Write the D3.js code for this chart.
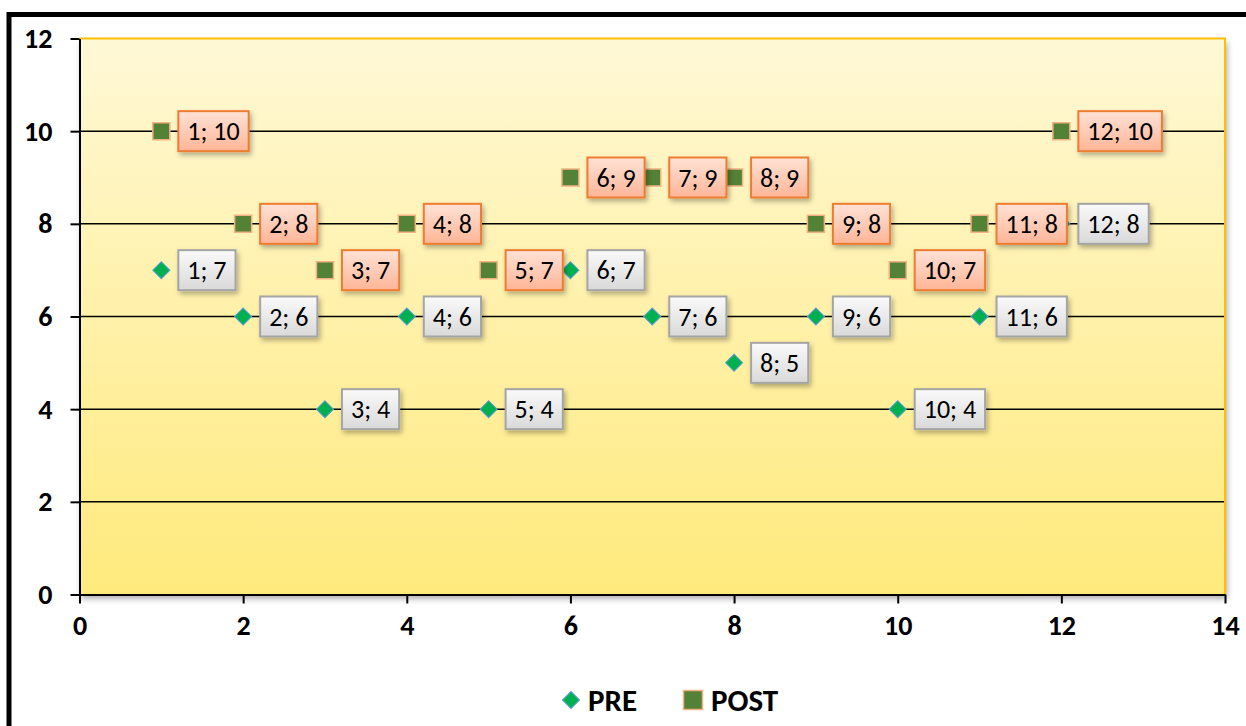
<!DOCTYPE html>
<html>
<head>
<meta charset="utf-8">
<script src="https://cdn.jsdelivr.net/npm/d3@7"></script>
<style>
  body { margin: 0; background: #fff; }
  svg { display: block; }
  text { font-family: Calibri, Carlito, "Noto Sans", sans-serif; }
</style>
</head>
<body>
<div id="chart"></div>
<script>
/* Scatter of PRE / POST scores */

const xValues = [1, 2, 3, 4, 5, 6, 7, 8, 9, 10, 11, 12];
const preValues = [7, 6, 4, 6, 4, 7, 6, 5, 6, 4, 6, 8];
const postValues = [10, 8, 7, 8, 7, 9, 9, 9, 8, 7, 8, 10];
const xTicks = [0, 2, 4, 6, 8, 10, 12, 14];
const yTicks = [0, 2, 4, 6, 8, 10, 12];
const seriesNames = ["PRE", "POST"];

const width = 1246,
      height = 726,
      margin = ({top: 38.5, right: 21, bottom: 131.5, left: 79.5});

const svg = d3.select("#chart")
    .append("svg")
    .attr("width", width)
    .attr("height", height)
    .attr("viewBox", [0, 0, width, height]);

const defs = svg.append("defs");

const bg = defs.append("linearGradient")
    .attr("id", "plotBg").attr("x1", 0).attr("y1", 0).attr("x2", 0).attr("y2", 1);
bg.append("stop").attr("offset", "0%").attr("stop-color", "#fff8d6");
bg.append("stop").attr("offset", "100%").attr("stop-color", "#ffea7c");

const orangeFill = defs.append("linearGradient")
    .attr("id", "orangeFill").attr("x1", 0).attr("y1", 0).attr("x2", 0).attr("y2", 1);
orangeFill.append("stop").attr("offset", "0%").attr("stop-color", "#ffe2d6");
orangeFill.append("stop").attr("offset", "100%").attr("stop-color", "#ffb597");

const greyFill = defs.append("linearGradient")
    .attr("id", "greyFill").attr("x1", 0).attr("y1", 0).attr("x2", 0).attr("y2", 1);
greyFill.append("stop").attr("offset", "0%").attr("stop-color", "#fafafa");
greyFill.append("stop").attr("offset", "100%").attr("stop-color", "#d9d9d9");

const shadow = defs.append("filter")
    .attr("id", "shadow").attr("x", "-20%").attr("y", "-20%").attr("width", "150%").attr("height", "160%");
shadow.append("feDropShadow")
    .attr("dx", 2).attr("dy", 3).attr("stdDeviation", 2.5)
    .attr("flood-color", "#000").attr("flood-opacity", 0.3);

const plotShadow = defs.append("filter")
    .attr("id", "plotShadow").attr("x", "-5%").attr("y", "-5%").attr("width", "110%").attr("height", "110%");
plotShadow.append("feDropShadow")
    .attr("dx", 2).attr("dy", 4).attr("stdDeviation", 3)
    .attr("flood-color", "#000").attr("flood-opacity", 0.35);

const x = d3.scaleLinear()
    .domain([0, 14])
    .range([margin.left, width - margin.right]);

const y = d3.scaleLinear()
    .domain([0, 12])
    .range([height - margin.bottom, margin.top]);

// outer frame
svg.append("rect")
    .attr("x", 9).attr("y", 14.5)
    .attr("width", 1400).attr("height", 900)
    .attr("fill", "none")
    .attr("stroke", "#000")
    .attr("stroke-width", 5);

// plot area
svg.append("rect")
    .attr("x", x(0)).attr("y", y(12))
    .attr("width", x(14) - x(0)).attr("height", y(0) - y(12))
    .attr("fill", "url(#plotBg)")
    .attr("filter", "url(#plotShadow)");

// gridlines
svg.append("g")
    .selectAll("line")
    .data(yTicks.filter(d => d > 0 && d < 12))
    .join("line")
    .attr("x1", x(0)).attr("x2", x(14))
    .attr("y1", d => y(d)).attr("y2", d => y(d))
    .attr("stroke", "#000")
    .attr("stroke-width", 1.5);

// orange top / right border
svg.append("path")
    .attr("d", `M${x(0)},${y(12)}H${x(14)}V${y(0)}`)
    .attr("fill", "none")
    .attr("stroke", "#ffc000")
    .attr("stroke-width", 2);

const xAxis = g => g
    .attr("transform", `translate(0,${y(0)})`)
    .call(d3.axisBottom(x).tickValues(xTicks).tickSize(9).tickPadding(12).tickSizeOuter(0))
    .call(g => g.selectAll(".tick line").attr("stroke", "#000").attr("stroke-width", 2))
    .call(g => g.select(".domain").attr("stroke", "#000").attr("stroke-width", 2))
    .call(g => g.selectAll("text")
        .attr("font-size", 28).attr("font-weight", "bold").attr("fill", "#000"));

const yAxis = g => g
    .attr("transform", `translate(${x(0)},0)`)
    .call(d3.axisLeft(y).tickValues(yTicks).tickSize(9).tickPadding(18).tickSizeOuter(0))
    .call(g => g.selectAll(".tick line").attr("stroke", "#000").attr("stroke-width", 2))
    .call(g => g.select(".domain").attr("stroke", "#000").attr("stroke-width", 2))
    .call(g => g.selectAll("text")
        .attr("font-size", 28).attr("font-weight", "bold").attr("fill", "#000"));

svg.append("g").call(xAxis);
svg.append("g").call(yAxis);

const pre = xValues.map((d, i) => ({x: d, y: preValues[i]}));
const post = xValues.map((d, i) => ({x: d, y: postValues[i]}));

const diamond = d3.symbol().type(d3.symbolSquare).size(145);
const square = d3.symbol().type(d3.symbolSquare).size(290);

// markers
svg.append("g")
    .selectAll("path")
    .data(pre)
    .join("path")
    .attr("d", diamond)
    .attr("transform", d => `translate(${x(d.x)},${y(d.y)}) rotate(45)`)
    .attr("fill", "#00b050")
    .attr("stroke", "#5b9bd5")
    .attr("stroke-width", 1);

svg.append("g")
    .selectAll("path")
    .data(post)
    .join("path")
    .attr("d", square)
    .attr("transform", d => `translate(${x(d.x)},${y(d.y)})`)
    .attr("fill", "#538135")
    .attr("stroke", "#f4b183")
    .attr("stroke-width", 1.5);

// data labels
function addLabels(data, fill, stroke) {
    let lab = svg.append("g")
        .selectAll("g")
        .data(data)
        .join("g")
        .attr("transform", d => `translate(${x(d.x) + 17},${y(d.y)})`);

    lab.append("rect")
        .attr("y", -20)
        .attr("height", 40)
        .attr("fill", fill)
        .attr("stroke", stroke)
        .attr("stroke-width", 2)
        .attr("filter", "url(#shadow)");

    let txt = lab.append("text")
        .text(d => `${d.x}; ${d.y}`)
        .attr("y", 9)
        .attr("font-size", 26)
        .attr("fill", "#000");

    txt.each(function() {
        const w = this.getComputedTextLength();
        d3.select(this).attr("x", 9);
        d3.select(this.parentNode).select("rect").attr("width", w + 18);
    });
}

addLabels(pre, "url(#greyFill)", "#a5a5a5");
addLabels(post, "url(#orangeFill)", "#ed7d31");

// legend
const legend = svg.append("g").attr("transform", "translate(0,700)");

legend.append("path")
    .attr("d", diamond)
    .attr("transform", "translate(571,0) rotate(45)")
    .attr("fill", "#00b050")
    .attr("stroke", "#5b9bd5");

legend.append("text")
    .text(seriesNames[0])
    .attr("x", 588).attr("y", 10.5)
    .attr("font-size", 31).attr("font-weight", "bold");

legend.append("path")
    .attr("d", d3.symbol().type(d3.symbolSquare).size(360))
    .attr("transform", "translate(693,0)")
    .attr("fill", "#538135")
    .attr("stroke", "#f4b183")
    .attr("stroke-width", 1.5);

legend.append("text")
    .text(seriesNames[1])
    .attr("x", 711).attr("y", 10.5)
    .attr("font-size", 31).attr("font-weight", "bold");
</script>
</body>
</html>
